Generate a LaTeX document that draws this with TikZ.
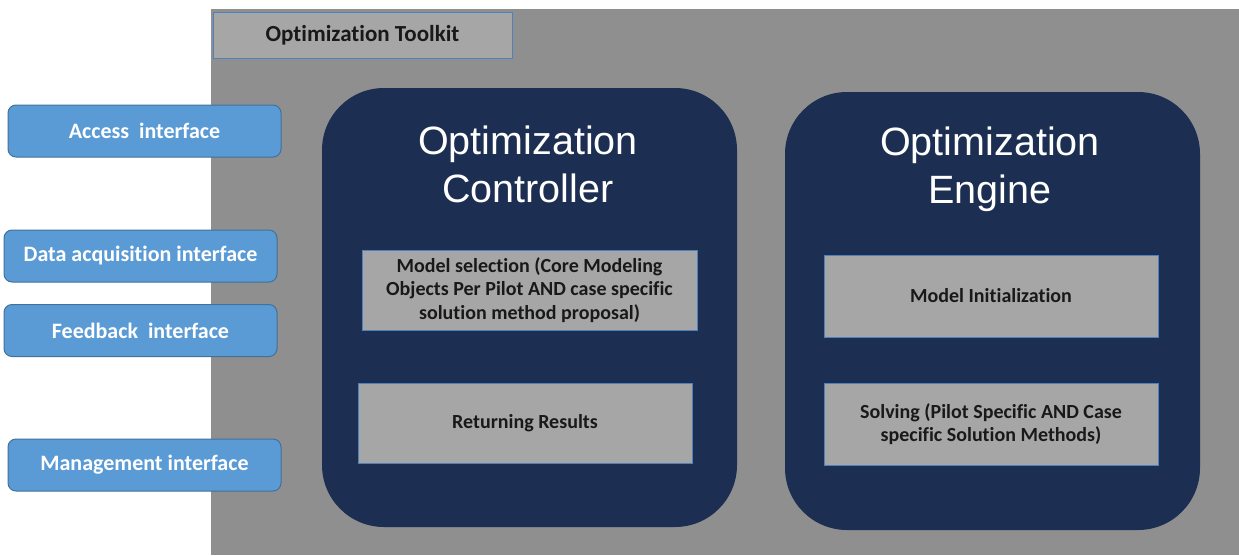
\documentclass[tikz,border=0pt]{standalone}
\usepackage{fontspec}
\setmainfont{Carlito}[Ligatures=NoCommon]
\newfontfamily\helv{Liberation Sans}
\definecolor{bggray}{HTML}{8F8F8F}
\definecolor{boxgray}{HTML}{A6A6A6}
\definecolor{boxedge}{HTML}{4F81BD}
\definecolor{ifblue}{HTML}{5B9BD5}
\definecolor{ifedge}{HTML}{41719C}
\definecolor{navy}{HTML}{1C2E51}
\tikzset{
  ifbox/.style={draw=ifedge, fill=ifblue, rounded corners=8pt, line width=1pt, text=white,
    font=\bfseries\fontsize{22}{26}\selectfont, minimum width=273pt, minimum height=52pt, inner sep=0pt},
  bigbox/.style={fill=navy, rounded corners=62pt, inner sep=0pt},
  graybox/.style={draw=boxedge, fill=boxgray, line width=0.8pt, inner sep=0pt, align=center,
    font=\bfseries\fontsize{20}{23.5}\selectfont, text=black!90},
  title/.style={text=white, align=center, font=\helv\fontsize{39.5}{48}\selectfont, inner sep=0pt}
}
\begin{document}
\begin{tikzpicture}[x=1pt,y=-1pt]
\useasboundingbox (0,0) rectangle (1239,555);
\fill[white] (0,0) rectangle (1239,555);
\node[fill=bggray, minimum width=1028pt, minimum height=546pt, inner sep=0pt] (bg) at (725,282) {};
\node[graybox, minimum width=299pt, minimum height=46pt, font=\bfseries\fontsize{23}{26}\selectfont] (tk) at (362.5,35) {Optimization Toolkit};

\node[ifbox] (acc) at (144.5,131) {Access\ \ interface};
\node[ifbox] (dat) at (140.5,256) {Data acquisition interface};
\node[ifbox] (fbk) at (140.5,330.5) {Feedback\ \ interface};
\node[ifbox] (mgt) at (144.5,465) {Management interface};

\node[bigbox, minimum width=415pt, minimum height=439pt] (ctrl) at (529.5,307.5) {};
\node[bigbox, minimum width=415pt, minimum height=438pt] (eng) at (992.5,311) {};

\node[title] (ctrlt) at (528,164) {Optimization\\Controller};
\node[title] (engt) at (990,169.5) {Optimization\\Engine};

\node[graybox, minimum width=335pt, minimum height=80pt] (msel) at (529.5,290)
  {Model selection (Core Modeling\\Objects Per Pilot AND case specific\\solution method proposal)};
\node[graybox, minimum width=334pt, minimum height=80pt] (ret) at (525,423) {Returning Results};
\node[graybox, minimum width=334pt, minimum height=82pt] (mini) at (991,296) {Model Initialization};
\node[graybox, minimum width=334pt, minimum height=82pt] (solv) at (991,424)
  {Solving (Pilot Specific AND Case\\specific Solution Methods)};
\end{tikzpicture}
\end{document}
